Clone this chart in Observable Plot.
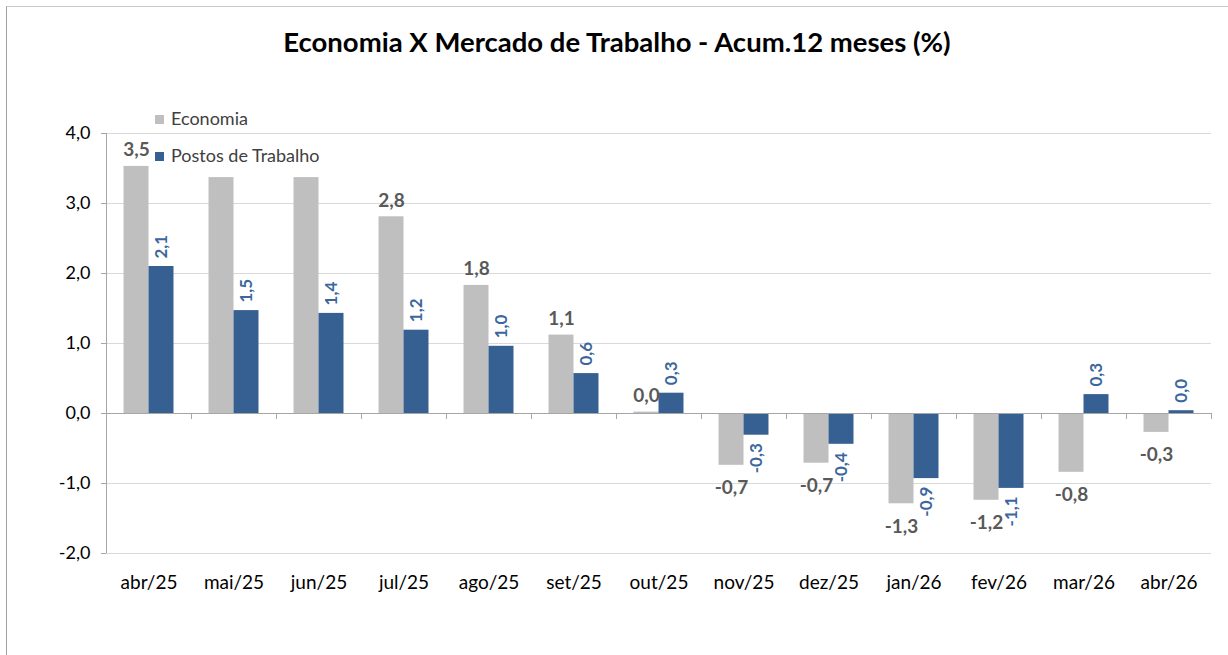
<!DOCTYPE html>
<html>
<head>
<meta charset="utf-8">
<script src="https://cdn.jsdelivr.net/npm/d3@7"></script>
<script src="https://cdn.jsdelivr.net/npm/@observablehq/plot@0.6"></script>
<style>
  body { margin: 0; background: #fff; }
  #wrap { position: relative; width: 1228px; height: 655px; overflow: hidden; font-family: Lato, "Open Sans", sans-serif; background: #fff; }
  #border { position: absolute; left: 6px; top: 6px; right: -2px; bottom: -2px; border-left: 1px solid #a0a0a0; border-top: 1px solid #c8c8c8; }
  #title { position: absolute; top: 25px; left: 0; width: 1234px; text-align: center; font-size: 27.5px; font-weight: bold; color: #000; }
  #chart { position: absolute; left: 0; top: 0; }
  #legend { position: absolute; left: 155px; top: 100px; font-size: 18px; color: #404040; line-height: 37px; }
  #legend .sw { display: inline-block; width: 9px; height: 9px; margin-right: 7px; vertical-align: 1px; }
</style>
</head>
<body>
<div id="wrap">
  <div id="border"></div>
  <div id="title">Economia X Mercado de Trabalho - Acum.12 meses (%)</div>
  <div id="chart"></div>
  <div id="legend"></div>
</div>
<script>
const months = ["abr/25","mai/25","jun/25","jul/25","ago/25","set/25","out/25","nov/25","dez/25","jan/26","fev/26","mar/26","abr/26"];
const economia = [3.53, 3.37, 3.37, 2.81, 1.83, 1.12, 0.02, -0.74, -0.71, -1.29, -1.24, -0.84, -0.27];
const postos   = [2.10, 1.47, 1.43, 1.19, 0.96, 0.57, 0.29, -0.31, -0.44, -0.93, -1.07, 0.27, 0.04];
const series = ["Economia", "Postos de Trabalho"];
const colors = ["#bfbfbf", "#366092"];
const labelColors = ["#595959", "#3b679e"];
const yTicks = [-2, -1, 0, 1, 2, 3, 4];
const hiddenEconomiaLabels = ["mai/25", "jun/25"]; // covered by the legend in the original

const fmt = v => v.toFixed(1).replace(".", ",").replace(/^-0,0$/, "0,0");
const barW = 0.294;

const rows = [];
months.forEach((m, i) => {
  rows.push({i, month: m, series: series[0], value: economia[i], x1: i - barW, x2: i});
  rows.push({i, month: m, series: series[1], value: postos[i], x1: i, x2: i + barW});
});
const eco = rows.filter(d => d.series === series[0]);
const pos = rows.filter(d => d.series === series[1]);
const ecoLab = eco.filter(d => !hiddenEconomiaLabels.includes(d.month));
const boundaries = d3.range(months.length + 1).map(i => i - 0.5);

const chart = Plot.plot({
  width: 1228,
  height: 620,
  marginTop: 133,
  marginBottom: 67,
  marginLeft: 106,
  marginRight: 17,
  style: { fontFamily: "Lato, 'Open Sans', sans-serif", background: "transparent", overflow: "visible" },
  x: { domain: [-0.5, months.length - 0.5], axis: null },
  y: { domain: [-2, 4], axis: null },
  color: { domain: series, range: colors },
  marks: [
    Plot.ruleY(yTicks, { stroke: "#d9d9d9", strokeWidth: 1 }),
    Plot.rectY(rows, { x1: "x1", x2: "x2", y: "value", fill: "series" }),
    Plot.ruleY([0], { stroke: "#a6a6a6" }),
    Plot.ruleX(boundaries, { x: d => d, y1: 0, y2: -0.085, stroke: "#a6a6a6" }),
    Plot.ruleX([-0.5], { y1: -2, y2: 4, stroke: "#a6a6a6" }),
    Plot.axisY({ ticks: yTicks, tickFormat: d => d.toFixed(1).replace(".", ","), tickSize: 5, tickPadding: 11, stroke: "#a6a6a6", fontSize: 18, color: "#000", label: null }),
    Plot.axisX({ ticks: d3.range(months.length), tickFormat: i => months[i], tickSize: 0, tickPadding: 22, fontSize: 19, label: null, anchor: "bottom" }),
    // Economia labels
    Plot.text(ecoLab.filter(d => d.value >= 0), { x: d => (d.x1 + d.x2) / 2, y: "value", text: d => fmt(d.value), dy: -16, fill: labelColors[0], fontWeight: "bold", fontSize: 19 }),
    Plot.text(ecoLab.filter(d => d.value < 0), { x: d => (d.x1 + d.x2) / 2, y: "value", text: d => fmt(d.value), dy: 23, fill: labelColors[0], fontWeight: "bold", fontSize: 19 }),
    // Postos labels (rotated)
    Plot.text(pos.filter(d => d.value >= 0), { x: d => (d.x1 + d.x2) / 2, y: "value", text: d => fmt(d.value), rotate: -90, textAnchor: "start", lineAnchor: "middle", dy: -8, fill: labelColors[1], fontWeight: "bold", fontSize: 17 }),
    Plot.text(pos.filter(d => d.value < 0), { x: d => (d.x1 + d.x2) / 2, y: "value", text: d => fmt(d.value), rotate: -90, textAnchor: "end", lineAnchor: "middle", dy: 8, fill: labelColors[1], fontWeight: "bold", fontSize: 17 })
  ]
});
document.getElementById("chart").appendChild(chart);

const legend = document.getElementById("legend");
series.forEach((s, k) => {
  const row = document.createElement("div");
  const sw = document.createElement("span");
  sw.className = "sw";
  sw.style.background = colors[k];
  row.appendChild(sw);
  row.appendChild(document.createTextNode(s));
  legend.appendChild(row);
});
</script>
</body>
</html>
